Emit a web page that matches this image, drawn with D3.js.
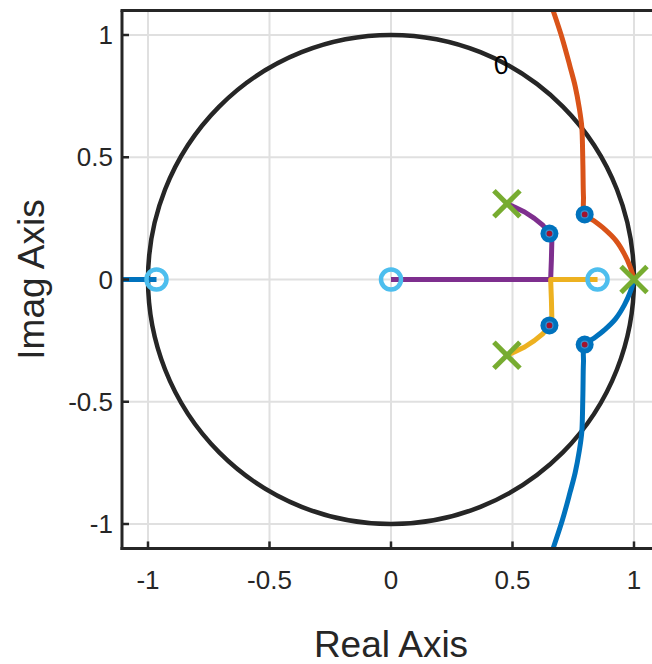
<!DOCTYPE html>
<html>
<head>
<meta charset="utf-8">
<script src="https://cdn.jsdelivr.net/npm/d3@7"></script>
<style>
  body { margin: 0; background: #fff; }
  svg text { font-family: "Liberation Sans", Arial, Helvetica, sans-serif; fill: #262626; }
</style>
</head>
<body>
<div id="chart"></div>
<script>
// root locus data
const ticks = [-1, -0.5, 0, 0.5, 1];
const tickLabels = ["-1", "-0.5", "0", "0.5", "1"];

const poles = [[1, 0], [0.477, 0.31], [0.477, -0.31]];
const zeros = [[-0.965, 0], [0, 0], [0.85, 0]];
const markers = [[0.652, 0.188], [0.652, -0.188], [0.797, 0.266], [0.797, -0.266]];

// branches
const purple = [[0.477, 0.31], [0.51, 0.295], [0.55, 0.276], [0.59, 0.25], [0.625, 0.222], [0.652, 0.188],
  [0.662, 0.16], [0.66, 0.08], [0.657, 0], [0, 0]];
const yellow = [[0.477, -0.31], [0.51, -0.295], [0.55, -0.276], [0.59, -0.25], [0.625, -0.222], [0.652, -0.188],
  [0.662, -0.16], [0.66, -0.08], [0.657, 0], [0.85, 0]];
const orange = [[1, 0], [0.985, 0.05], [0.96, 0.105], [0.925, 0.16], [0.88, 0.205], [0.835, 0.24], [0.797, 0.266],
  [0.792, 0.34], [0.79, 0.45], [0.788, 0.55], [0.785, 0.626], [0.775, 0.70], [0.758, 0.79], [0.737, 0.87], [0.705, 0.985], [0.667, 1.1]];
const blue = [[1, 0], [0.985, -0.05], [0.96, -0.105], [0.925, -0.16], [0.88, -0.205], [0.835, -0.24], [0.797, -0.266],
  [0.792, -0.34], [0.79, -0.45], [0.788, -0.55], [0.785, -0.626], [0.775, -0.70], [0.758, -0.79], [0.737, -0.87], [0.705, -0.985], [0.667, -1.1]];
const blueLeft = [[-1.12, 0], [-0.965, 0]];

const branches = [
  {pts: purple, color: "#7E2F8E", smooth: false},
  {pts: yellow, color: "#EDB120", smooth: false},
  {pts: orange, color: "#D95319", smooth: true},
  {pts: blue, color: "#0072BD", smooth: true},
  {pts: blueLeft, color: "#0072BD", smooth: false}
];

const W = 652, H = 664;
const svg = d3.select("#chart").append("svg")
    .attr("width", W)
    .attr("height", H);

const x = d3.scaleLinear().domain([-1, 1]).range([148, 634]);
const y = d3.scaleLinear().domain([-1, 1]).range([524, 35]);
const x0 = x(-1.107), y0 = y(-1.1), y1 = y(1.1);
const x1 = W + 10;

const defs = svg.append("defs");
defs.append("clipPath").attr("id", "clip")
  .append("rect").attr("x", x0).attr("y", y1).attr("width", x1 - x0).attr("height", y0 - y1);

// grid
const grid = svg.append("g").attr("stroke", "#e0e0e0").attr("stroke-width", 2);
grid.selectAll("line.v").data(ticks).join("line")
    .attr("x1", d => x(d)).attr("x2", d => x(d)).attr("y1", y1).attr("y2", y0);
grid.selectAll("line.h").data(ticks).join("line")
    .attr("y1", d => y(d)).attr("y2", d => y(d)).attr("x1", x0).attr("x2", x1);

const plot = svg.append("g").attr("clip-path", "url(#clip)");

// unit circle
plot.append("ellipse")
    .attr("cx", x(0)).attr("cy", y(0))
    .attr("rx", x(1) - x(0)).attr("ry", y(0) - y(1))
    .attr("fill", "none").attr("stroke", "#262626").attr("stroke-width", 4.5);

plot.append("text")
    .attr("transform", `translate(${x(0.453)},${y(0.878)}) rotate(-5)`)
    .attr("text-anchor", "middle")
    .attr("dy", "0.35em")
    .attr("font-size", 26)
    .style("fill", "#000")
    .text("0");

const lineLin = d3.line().x(d => x(d[0])).y(d => y(d[1]));
const lineSmooth = d3.line().x(d => x(d[0])).y(d => y(d[1])).curve(d3.curveCatmullRom.alpha(0.5));

plot.selectAll("path.branch").data(branches).join("path")
    .attr("class", "branch")
    .attr("d", d => (d.smooth ? lineSmooth : lineLin)(d.pts))
    .attr("fill", "none")
    .attr("stroke", d => d.color)
    .attr("stroke-width", 5)
    .attr("stroke-linejoin", "round");

// zeros
plot.selectAll("circle.zero").data(zeros).join("circle")
    .attr("class", "zero")
    .attr("cx", d => x(d[0])).attr("cy", d => y(d[1]))
    .attr("r", 10)
    .attr("fill", "none").attr("stroke", "#4DBEEE").attr("stroke-width", 4.5);

// poles
const s = 13;
const pg = plot.selectAll("g.pole").data(poles).join("g")
    .attr("class", "pole")
    .attr("transform", d => `translate(${x(d[0])},${y(d[1])})`)
    .attr("stroke", "#77AC30").attr("stroke-width", 5);
pg.append("line").attr("x1", -s).attr("y1", -s).attr("x2", s).attr("y2", s);
pg.append("line").attr("x1", -s).attr("y1", s).attr("x2", s).attr("y2", -s);

// gain markers
const mg = plot.selectAll("g.marker").data(markers).join("g")
    .attr("class", "marker")
    .attr("transform", d => `translate(${x(d[0])},${y(d[1])})`);
mg.append("circle").attr("r", 9).attr("fill", "#0072BD");
mg.append("circle").attr("r", 3.5).attr("fill", "#A2142F").attr("stroke", "#3d8fd0").attr("stroke-width", 1.2);

// axes box
const box = svg.append("g").attr("stroke", "#262626").attr("stroke-width", 3).attr("fill", "none");
box.append("line").attr("x1", x0).attr("x2", x0).attr("y1", y1).attr("y2", y0 + 1.5);
box.append("line").attr("x1", x0 - 1.5).attr("x2", x1).attr("y1", y0).attr("y2", y0);
box.append("line").attr("x1", x0 - 1.5).attr("x2", x1).attr("y1", y1).attr("y2", y1);

// ticks
const tk = svg.append("g").attr("stroke", "#262626").attr("stroke-width", 2.5);
tk.selectAll("line.xt").data(ticks).join("line")
    .attr("x1", d => x(d)).attr("x2", d => x(d)).attr("y1", y0).attr("y2", y0 - 7);
tk.selectAll("line.yt").data(ticks).join("line")
    .attr("y1", d => y(d)).attr("y2", d => y(d)).attr("x1", x0).attr("x2", x0 + 7);

// tick labels
svg.selectAll("text.xl").data(ticks).join("text")
    .attr("class", "xl")
    .attr("x", d => x(d)).attr("y", y0 + 41)
    .attr("text-anchor", "middle")
    .attr("font-size", 26)
    .text((d, i) => tickLabels[i]);
svg.selectAll("text.yl").data(ticks).join("text")
    .attr("class", "yl")
    .attr("x", x0 - 9).attr("y", d => y(d))
    .attr("dy", "0.35em")
    .attr("text-anchor", "end")
    .attr("font-size", 26)
    .text((d, i) => tickLabels[i]);

// axis titles
svg.append("text")
    .attr("x", x(0)).attr("y", 657)
    .attr("text-anchor", "middle")
    .attr("font-size", 37)
    .text("Real Axis");
svg.append("text")
    .attr("transform", `translate(44,${y(0)}) rotate(-90)`)
    .attr("text-anchor", "middle")
    .attr("font-size", 37)
    .text("Imag Axis");
</script>
</body>
</html>
